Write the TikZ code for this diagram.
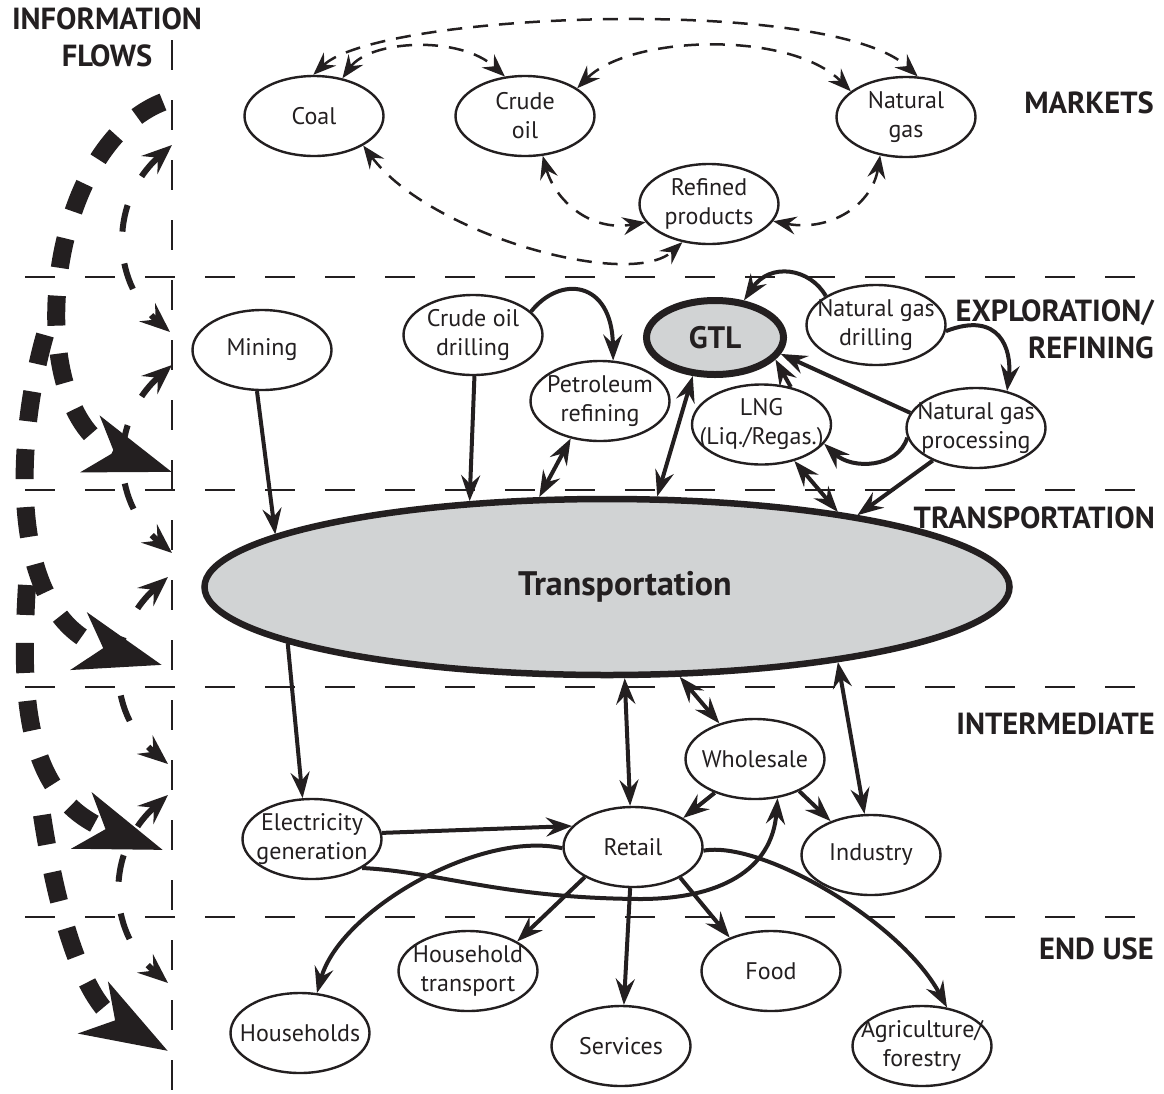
\documentclass[tikz,border=0pt]{standalone}
\usepackage{fontspec}
\setmainfont{PT Sans}
\usetikzlibrary{arrows.meta,shapes.geometric}
\definecolor{ink}{RGB}{35,31,32}
\definecolor{fillgray}{RGB}{209,211,212}
\begin{document}
\begin{tikzpicture}[x=1pt,y=-1pt,
  ell/.style={ellipse, draw=ink, line width=2.4pt, fill=white, minimum width=139pt, minimum height=80pt, inner sep=0pt},
  txt/.style={align=center, inner sep=0pt, font=\fontsize{24}{29}\selectfont, text=ink},
  sec/.style={font=\bfseries\fontsize{30.5}{37}\selectfont, anchor=east, align=right, inner sep=0pt, text=ink},
  sepline/.style={draw=ink, line width=2.5pt, dash pattern=on 30pt off 30pt},
  tipS/.tip={Stealth[length=26pt,width=19pt,inset=9pt]},
  tipM/.tip={Stealth[length=23pt,width=18pt,inset=8pt]},
  sarr/.style={draw=ink, line width=4pt, -tipS},
  darr/.style={draw=ink, line width=4pt, tipS-tipS},
  mk/.style={draw=ink, line width=2.5pt, dash pattern=on 15pt off 11pt, tipM-tipM},
  bigflow/.style={draw=ink, line width=18pt, dash pattern=on 30pt off 28pt, -{Stealth[length=85pt,width=58pt,inset=24pt]}},
  smallflow/.style={draw=ink, line width=6pt, dash pattern=on 27pt off 32pt, {Stealth[length=30pt,width=24pt,inset=11pt]}-{Stealth[length=30pt,width=24pt,inset=11pt]}}
]
\useasboundingbox (0,0) rectangle (1164,1093);

% section separators
\draw[sepline] (25,277) -- (1140,277);
\draw[sepline] (25,490) -- (1140,490);
\draw[sepline] (25,687) -- (1140,687);
\draw[sepline] (25,917) -- (1140,917);
\draw[sepline] (172,40) -- (172,1093);

% information flows
\draw[bigflow] (163,102) .. controls (40,150) and (20,420) .. (172,472);
\draw[bigflow] (45,335) .. controls (15,440) and (5,620) .. (162,665);
\draw[bigflow] (27,585) .. controls (20,700) and (25,800) .. (163,850);
\draw[bigflow] (42,815) .. controls (55,900) and (80,1000) .. (168,1051);
\draw[smallflow] (172,145) .. controls (110,200) and (110,280) .. (170,332);
\draw[smallflow] (172,365) .. controls (110,420) and (110,500) .. (172,553);
\draw[smallflow] (168,577) .. controls (106,632) and (106,712) .. (168,764);
\draw[smallflow] (168,795) .. controls (106,850) and (106,930) .. (168,983);

% labels
\node[sec, anchor=center, align=center] (infolab) at (107,37) {INFORMATION\\FLOWS};
\node[sec] (mktlab) at (1154,103) {MARKETS};
\node[sec] (explab) at (1154,329) {EXPLORATION/\\REFINING};
\node[sec] (trlab) at (1155,518) {TRANSPORTATION};
\node[sec] (intlab) at (1155,724) {INTERMEDIATE};
\node[sec] (endlab) at (1154,949) {END USE};

% markets
\node[ell, label={[txt]center:Coal}] (coal) at (314,116) {};
\node[ell, label={[txt]center:Crude\\oil}] (crude) at (525,116) {};
\node[ell, label={[txt]center:Natural\\gas}] (ngas) at (906,117) {};
\node[ell, label={[txt]center:Refined\\products}] (refined) at (709,204) {};

% exploration / refining
\node[ell, label={[txt]center:Mining}] (mining) at (262,350) {};
\node[ell, label={[txt]center:Crude oil\\drilling}] (cod) at (473,335) {};
\node[ell, label={[txt]center:Petroleum\\refining}] (petref) at (600,401) {};
\node[ellipse, draw=ink, line width=7pt, fill=fillgray, minimum width=137pt, minimum height=74pt, inner sep=0pt,
  label={[font=\bfseries\fontsize{31}{36}\selectfont, text=ink]center:GTL}] (gtl) at (715,337.5) {};
\node[ell, label={[txt]center:Natural gas\\drilling}] (ngd) at (876,325) {};
\node[ell, label={[txt]center:LNG\\(Liq./Regas.)}] (lng) at (761.5,424.5) {};
\node[ell, label={[txt]center:Natural gas\\processing}] (ngp) at (976,428) {};

% transportation
\node[ellipse, draw=ink, line width=6.5pt, fill=fillgray, minimum width=805pt, minimum height=176pt, inner sep=0pt,
  label={[font=\bfseries\fontsize{34}{40}\selectfont, text=ink, xshift=18pt]center:Transportation}] (trans) at (607,587) {};

% intermediate
\node[ell, label={[txt]center:Wholesale}] (wholesale) at (755,759) {};
\node[ell, label={[txt]center:Electricity\\generation}] (elec) at (312,839) {};
\node[ell, label={[txt]center:Retail}] (retail) at (633,847) {};
\node[ell, label={[txt]center:Industry}] (industry) at (871,855) {};

% end use
\node[ell, label={[txt]center:Households}] (households) at (300,1033) {};
\node[ell, label={[txt]center:Household\\transport}] (hht) at (468,971) {};
\node[ell, label={[txt]center:Services}] (services) at (621,1046) {};
\node[ell, label={[txt]center:Food}] (food) at (771,971) {};
\node[ell, label={[txt]center:Agriculture/\\forestry}] (agri) at (922,1046) {};

% market connectors
\draw[mk] (coal.91) .. controls (380,12) and (830,-5) .. (ngas.74);
\draw[mk] (coal.53) .. controls (370,40) and (460,35) .. (crude.117);
\draw[mk] (crude.28) .. controls (630,35) and (790,30) .. (ngas.155);
\draw[mk] (coal.-31) .. controls (430,235) and (630,290) .. (refined.-125);
\draw[mk] (crude.-66) .. controls (555,200) and (590,232) .. (refined.-164);
\draw[mk] (ngas.-124) .. controls (872,205) and (830,232) .. (refined.-15);

% exploration connectors
\draw[sarr] (mining.-97) -- (trans.171);
\draw[sarr] (cod.-88) -- (trans.148.5);
\draw[sarr] (cod.22) .. controls (560,275) and (612,280) .. (petref.72);
\draw[darr] (petref.-128) -- (trans.127.4);
\draw[darr] (gtl.-120) -- (trans.61.3);
\draw[sarr] (ngd.150) .. controls (810,268) and (770,262) .. (gtl.52);
\draw[sarr] (ngd.-5) .. controls (1000,310) and (1012,350) .. (ngp.50);
\draw[sarr] (ngp.167) -- (gtl.-14);
\draw[sarr] (lng.52) -- (gtl.-20);
\draw[sarr] (ngp.-172) .. controls (898,468) and (852,470) .. (lng.-17);
\draw[darr] (lng.-48) -- (trans.18.9);
\draw[sarr] (ngp.-143) -- (trans.16.1);

% intermediate / end use connectors
\draw[sarr] (trans.-170) -- (elec.103);
\draw[darr] (trans.-79) -- (retail.94);
\draw[darr] (trans.-51.4) -- (wholesale.135);
\draw[sarr] (wholesale.-140) -- (retail.30);
\draw[sarr] (wholesale.-36) -- (industry.140);
\draw[darr] (trans.-18.3) -- (industry.99);
\draw[sarr] (elec.5) -- (retail.161);
\draw[sarr] (elec.-30) .. controls (440,872) and (500,898) .. (640,899) .. controls (720,899) and (772,870) .. (wholesale.-60);
\draw[sarr] (retail.181) .. controls (480,830) and (340,910) .. (households.67);
\draw[sarr] (retail.-148) -- (hht.31);
\draw[sarr] (retail.-94) -- (services.86);
\draw[sarr] (retail.-33) -- (food.141);
\draw[sarr] (retail.-3) .. controls (760,840) and (900,920) .. (agri.57);
\end{tikzpicture}
\end{document}
